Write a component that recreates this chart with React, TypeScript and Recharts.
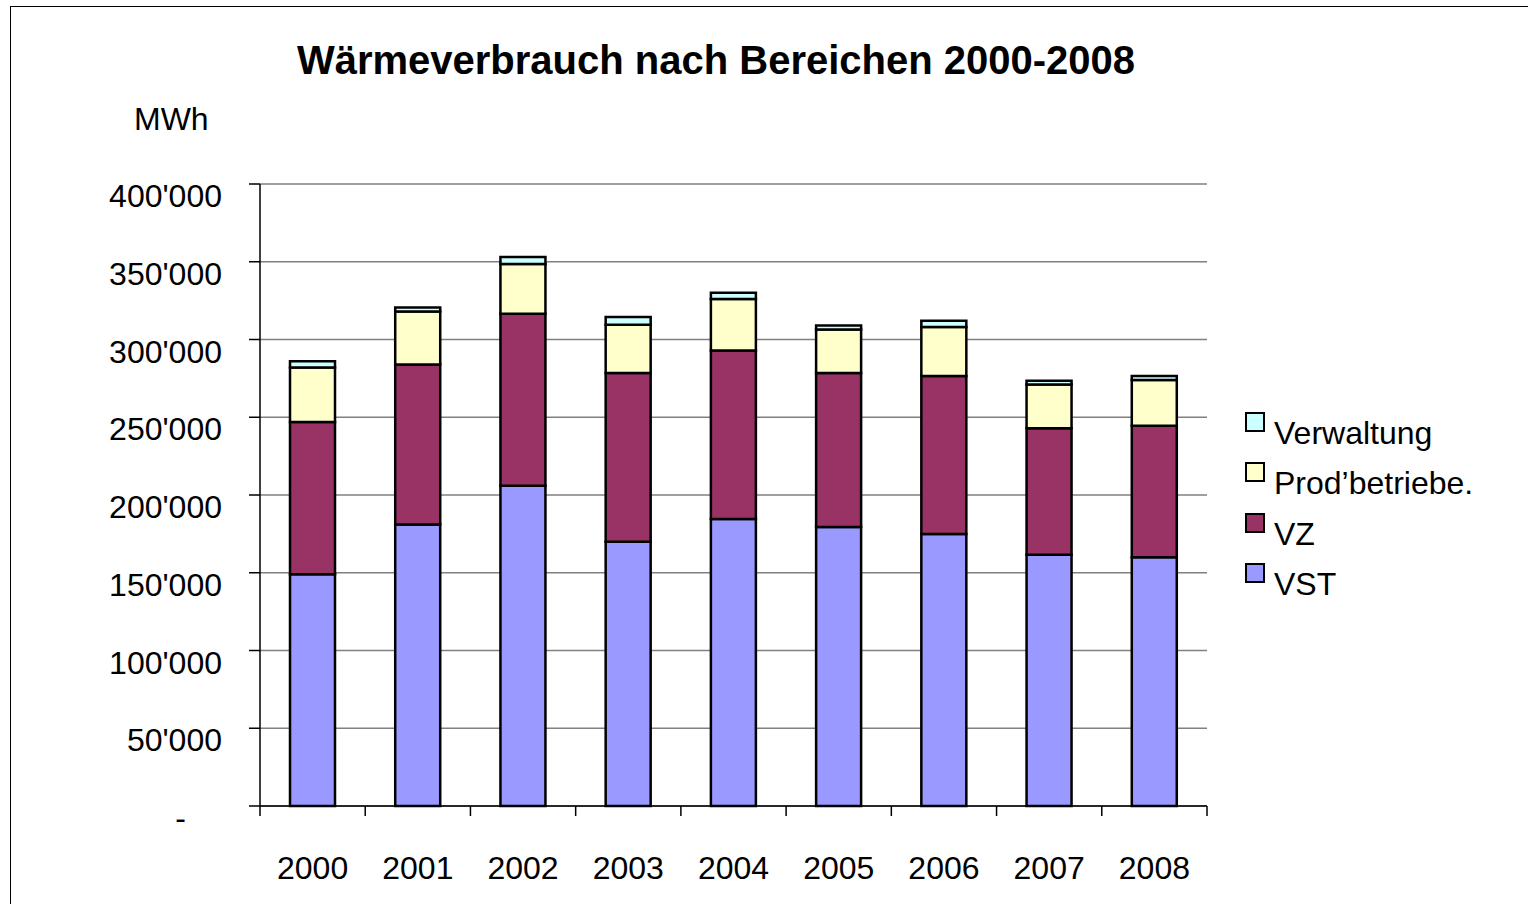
import React from 'react';
import { BarChart, Bar, XAxis, YAxis, CartesianGrid } from 'recharts';

const years = ['2000', '2001', '2002', '2003', '2004', '2005', '2006', '2007', '2008'];
const vst = [149000, 181000, 206000, 170000, 184500, 179500, 175000, 161500, 160000];
const vz = [98000, 103000, 110500, 108500, 108500, 99000, 101500, 81500, 84500];
const prod = [35000, 34000, 32000, 31000, 33000, 28000, 31500, 28000, 29500];
const verw = [4000, 2500, 4500, 5000, 4000, 2500, 4000, 2500, 2500];
const yTicks = [0, 50000, 100000, 150000, 200000, 250000, 300000, 350000, 400000];

const SERIES = [
  { key: 'vst', name: 'VST', color: '#9999FF' },
  { key: 'vz', name: 'VZ', color: '#993366' },
  { key: 'prod', name: 'Prod\u2019betriebe.', color: '#FFFFCC' },
  { key: 'verw', name: 'Verwaltung', color: '#CCFFFF' },
];

const data = years.map((year, i) => ({
  year,
  vst: vst[i],
  vz: vz[i],
  prod: prod[i],
  verw: verw[i],
}));

const FONT = '"Liberation Sans", Arial, sans-serif';
const PLOT_LEFT = 260;
const PLOT_RIGHT = 1207;
const BAND = (PLOT_RIGHT - PLOT_LEFT) / years.length;

const fmt = (v: number) =>
  v === 0 ? '-' : String(v).replace(/\B(?=(\d{3})+(?!\d))/g, "'");

const YTick = (props: any) => {
  const { x, y, payload } = props;
  // excel's accounting format puts the zero dash further left
  const isZero = payload.value === 0;
  return (
    <text
      x={isZero ? x - 36 : x}
      y={y + 12}
      textAnchor="end"
      dominantBaseline="central"
      fontSize={32}
      fontFamily={FONT}
      fill="#000"
    >
      {fmt(payload.value)}
    </text>
  );
};

const XTick = (props: any) => {
  const { x, y, payload, index } = props;
  const left = x - BAND / 2;
  const right = x + BAND / 2;
  return (
    <g>
      <line x1={left} y1={y} x2={left} y2={y + 10} stroke="#000" strokeWidth={1.5} />
      {index === years.length - 1 && (
        <line x1={right} y1={y} x2={right} y2={y + 10} stroke="#000" strokeWidth={1.5} />
      )}
      <text x={x} y={y + 62} textAnchor="middle" dominantBaseline="central" fontSize={32} fontFamily={FONT} fill="#000">
        {payload.value}
      </text>
    </g>
  );
};

// legend drawn as plain html next to the plot, top item first like the original
const ChartLegend = () => (
  <div style={{ position: 'absolute', left: 1245, top: 412, width: 280, fontFamily: FONT }}>
    {[...SERIES].reverse().map((s) => (
      <div key={s.key} style={{ position: 'relative', height: 50.3 }}>
        <div
          style={{
            position: 'absolute',
            left: 0,
            top: 0,
            width: 16,
            height: 16,
            background: s.color,
            border: '2px solid #000',
          }}
        />
        <div style={{ position: 'absolute', left: 29, top: 5, fontSize: 32, lineHeight: '32px', whiteSpace: 'nowrap', color: '#000' }}>
          {s.name}
        </div>
      </div>
    ))}
  </div>
);

export default function App() {
  return (
    <div style={{ position: 'absolute', left: 0, top: 0, width: 1528, height: 904, overflow: 'hidden', background: '#fff' }}>
      <div
        style={{
          position: 'absolute',
          left: 10,
          top: 6,
          width: 1540,
          height: 940,
          border: '1.5px solid #000',
        }}
      />
      <div
        style={{
          position: 'absolute',
          left: 0,
          width: 1432,
          top: 36,
          textAlign: 'center',
          fontFamily: FONT,
          fontWeight: 'bold',
          fontSize: 40,
          lineHeight: '48px',
          color: '#000',
        }}
      >
        Wärmeverbrauch nach Bereichen 2000-2008
      </div>
      <div
        style={{
          position: 'absolute',
          left: 134,
          top: 99,
          fontFamily: FONT,
          fontSize: 32,
          lineHeight: '40px',
          color: '#000',
        }}
      >
        MWh
      </div>
      <BarChart
        width={1528}
        height={904}
        data={data}
        margin={{ top: 184, right: 1528 - PLOT_RIGHT, bottom: 8, left: PLOT_LEFT - 90 }}
        style={{ position: 'absolute', left: 0, top: 0 }}
      >
        <CartesianGrid horizontal vertical={false} stroke="#808080" strokeWidth={1.5} />
        <XAxis
          dataKey="year"
          height={90}
          tick={<XTick />}
          tickLine={false}
          tickSize={0}
          tickMargin={0}
          axisLine={{ stroke: '#000', strokeWidth: 1.5 }}
          interval={0}
        />
        <YAxis
          width={90}
          domain={[0, 400000]}
          ticks={yTicks}
          interval={0}
          tick={<YTick />}
          tickSize={11}
          tickMargin={27}
          tickLine={{ stroke: '#000', strokeWidth: 1.5 }}
          axisLine={{ stroke: '#000', strokeWidth: 1.5 }}
        />
        <YAxis
          yAxisId="r"
          orientation="right"
          width={0}
          domain={[0, 400000]}
          tick={false}
          tickLine={false}
          axisLine={{ stroke: '#808080', strokeWidth: 1.5 }}
        />
        {SERIES.map((s) => (
          <Bar
            key={s.key}
            dataKey={s.key}
            name={s.name}
            stackId="a"
            fill={s.color}
            stroke="#000"
            strokeWidth={2.5}
            barSize={45}
            isAnimationActive={false}
          />
        ))}
      </BarChart>
      <ChartLegend />
    </div>
  );
}
